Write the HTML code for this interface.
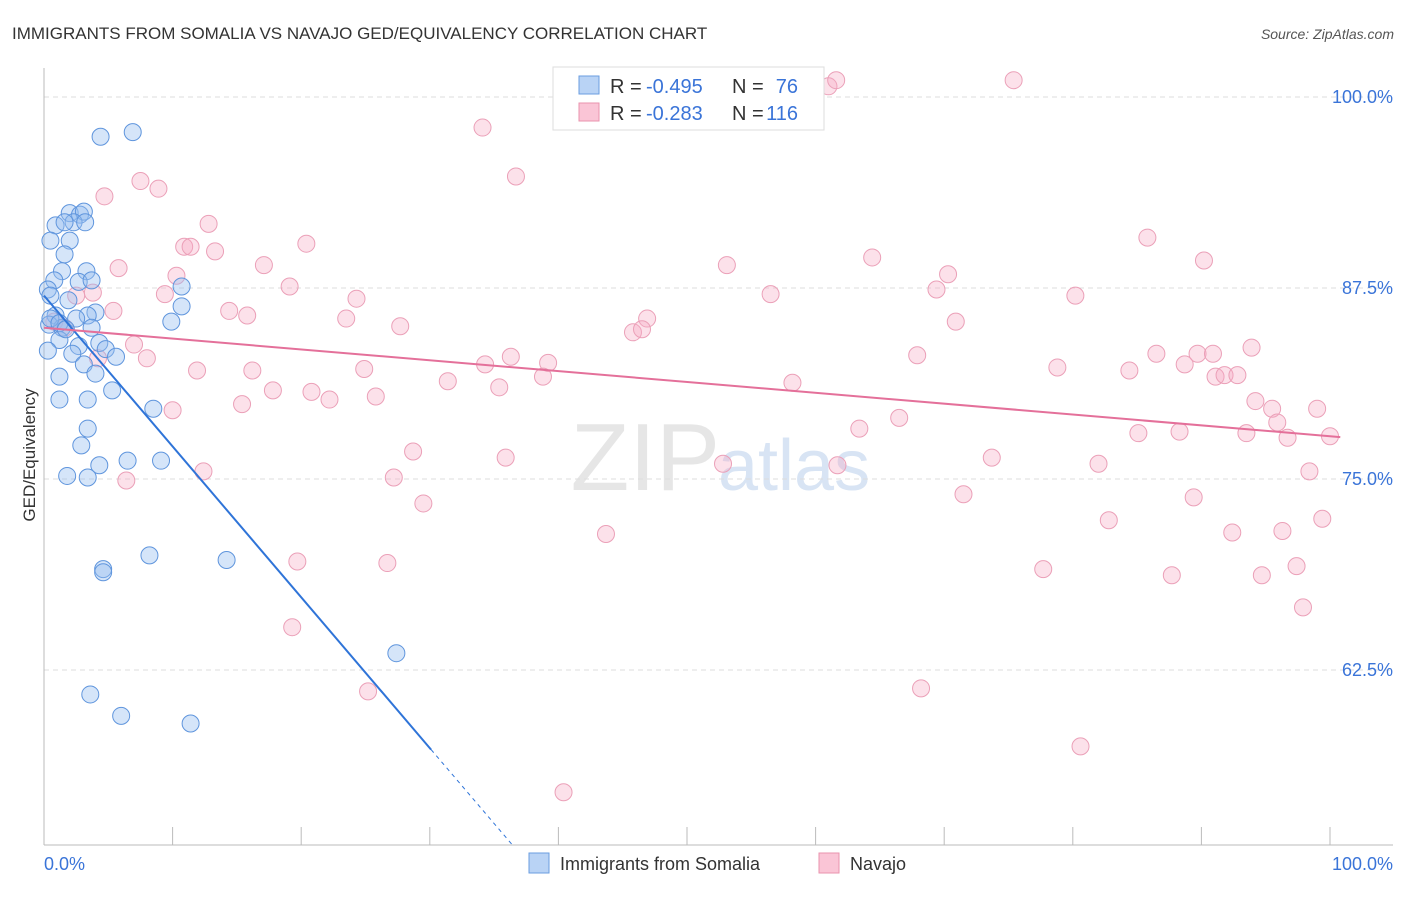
<!DOCTYPE html>
<html><head><meta charset="utf-8"><style>
body{margin:0;background:#fff;font-family:"Liberation Sans",sans-serif;}
svg text{font-family:"Liberation Sans",sans-serif;}
</style></head><body>
<svg id="chart" width="1406" height="892">
<text x="12" y="39" font-size="17" fill="#333">IMMIGRANTS FROM SOMALIA VS NAVAJO GED/EQUIVALENCY CORRELATION CHART</text>
<text x="1394" y="39" font-size="14" fill="#555" font-style="italic" text-anchor="end">Source: ZipAtlas.com</text>
<text x="720" y="490" font-size="96" fill="#e6e6e6" text-anchor="end" font-family="Liberation Serif">ZIP</text>
<text x="718" y="490" font-size="72" fill="#d8e4f4">atlas</text>
<g id="grid"></g><g id="axes"></g><g id="pts"></g><g id="lines"></g>
<text transform="translate(35,455) rotate(-90)" font-size="17" fill="#333" text-anchor="middle">GED/Equivalency</text>
<g>
<rect x="553" y="67" width="271" height="63" fill="#fff" stroke="#ddd"/>
<rect x="579" y="76" width="20" height="18" fill="#b9d3f5" stroke="#6a9ee0"/>
<rect x="579" y="103" width="20" height="18" fill="#fac5d6" stroke="#ea93ae"/>
<g font-size="20">
<text x="610" y="93" fill="#333">R =</text><text x="646" y="93" fill="#3a74d8">-0.495</text>
<text x="732" y="93" fill="#333">N =</text><text x="798" y="93" fill="#3a74d8" text-anchor="end">76</text></g>
<g font-size="20">
<text x="610" y="120" fill="#333">R =</text><text x="646" y="120" fill="#3a74d8">-0.283</text>
<text x="732" y="120" fill="#333">N =</text><text x="798" y="120" fill="#3a74d8" text-anchor="end">116</text></g>
</g>
<rect x="529" y="853" width="20" height="20" fill="#b9d3f5" stroke="#6a9ee0"/>
<text x="560" y="870" font-size="18" fill="#333">Immigrants from Somalia</text>
<rect x="819" y="853" width="20" height="20" fill="#fac5d6" stroke="#ea93ae"/>
<text x="850" y="870" font-size="18" fill="#333">Navajo</text>
</svg>
<script>
const yTicks=[100,87.5,75,62.5];
const yTickLabels=["100.0%","87.5%","75.0%","62.5%"];
const xTicks=[0,10,20,30,40,50,60,70,80,90,100];
const blueX=[4.4,6.9,0.9,2.0,2.8,3.1,2.3,3.2,1.6,0.5,2.0,1.6,1.4,3.3,0.8,2.7,3.7,0.3,0.5,1.9,10.7,10.7,4.0,3.4,0.9,2.5,9.9,0.4,1.4,3.7,1.2,2.7,4.3,4.8,0.3,2.2,5.6,3.1,4.0,1.2,5.3,1.2,3.4,8.5,3.4,2.9,4.3,6.5,9.1,1.8,3.4,8.2,14.2,4.6,4.6,27.4,3.6,6.0,11.4,0.5,1.2,1.7];
const blueY=[97.4,97.7,91.6,92.4,92.3,92.5,91.8,91.8,91.8,90.6,90.6,89.7,88.6,88.6,88.0,87.9,88.0,87.4,87.0,86.7,87.6,86.3,85.9,85.7,85.7,85.5,85.3,85.1,84.9,84.9,84.1,83.7,83.9,83.5,83.4,83.2,83.0,82.5,81.9,81.7,80.8,80.2,80.2,79.6,78.3,77.2,75.9,76.2,76.2,75.2,75.1,70.0,69.7,69.1,68.9,63.6,60.9,59.5,59.0,85.5,85.2,84.8];
const pinkX=[61.0,61.6,52.5,75.4,34.1,36.7,7.5,8.9,4.7,12.8,20.4,10.9,11.4,13.3,85.8,64.4,90.2,53.1,17.1,5.8,10.3,70.3,19.1,69.4,3.8,9.4,56.5,80.2,24.3,14.4,5.4,15.8,23.5,46.9,70.9,27.7,45.8,46.5,7.0,36.3,67.9,86.5,93.9,89.7,90.9,8.0,39.2,34.3,24.9,11.9,16.2,78.8,84.4,88.7,38.8,91.1,91.8,92.8,31.4,58.2,35.4,17.8,20.8,25.8,22.2,15.4,94.2,95.5,99.0,10.0,95.9,66.5,63.4,96.7,100,85.1,88.3,93.5,28.7,35.9,73.7,82.0,52.8,61.7,98.4,12.4,27.2,6.4,71.5,89.4,29.5,82.8,99.4,43.7,92.4,96.3,19.7,26.7,77.7,87.7,94.7,97.4,97.9,19.3,25.2,68.2,80.6,40.4,0.8,1.6,2.5,4.2];
const pinkY=[100.7,101.1,101.1,101.1,98.0,94.8,94.5,94.0,93.5,91.7,90.4,90.2,90.2,89.9,90.8,89.5,89.3,89.0,89.0,88.8,88.3,88.4,87.6,87.4,87.2,87.1,87.1,87.0,86.8,86.0,86.0,85.7,85.5,85.5,85.3,85.0,84.6,84.8,83.8,83.0,83.1,83.2,83.6,83.2,83.2,82.9,82.6,82.5,82.2,82.1,82.1,82.3,82.1,82.5,81.7,81.7,81.8,81.8,81.4,81.3,81.0,80.8,80.7,80.4,80.2,79.9,80.1,79.6,79.6,79.5,78.7,79.0,78.3,77.7,77.8,78.0,78.1,78.0,76.8,76.4,76.4,76.0,76.0,75.9,75.5,75.5,75.1,74.9,74.0,73.8,73.4,72.3,72.4,71.4,71.5,71.6,69.6,69.5,69.1,68.7,68.7,69.3,66.6,65.3,61.1,61.3,57.5,54.5,85.3,84.9,87.0,82.9];
const blueTrend=[87.0,-0.987];   // intercept, slope
const pinkTrend=[84.9,-0.071];
const blueSolidEnd=30.1;
const X0=44,X1=1330,Y100=97,PX=15.28,YBOT=845;
const xs=v=>X0+(X1-X0)*v/100;
const ys=v=>Y100+(100-v)*PX;
const NS='http://www.w3.org/2000/svg';
function mk(tag,attrs,parent){const e=document.createElementNS(NS,tag);for(const k in attrs)e.setAttribute(k,attrs[k]);document.getElementById(parent).appendChild(e);return e;}
yTicks.forEach((t,i)=>{
 const g=mk('line',{x1:X0,x2:1393,y1:ys(t),y2:ys(t),stroke:'#ddd','stroke-dasharray':'5,4'},'grid');
 
 
 const l=mk('text',{x:1393,y:ys(t)+6,'font-size':18,fill:'#3a74d8','text-anchor':'end'},'axes');
 l.textContent=yTickLabels[i];
 
 
});
const ya=mk('line',{x1:X0,x2:X0,y1:68,y2:YBOT,stroke:'#bbb'},'axes');


const xa=mk('line',{x1:X0,x2:1393,y1:YBOT,y2:YBOT,stroke:'#bbb'},'axes');


xTicks.forEach(t=>{
 const k=mk('line',{x1:xs(t),x2:xs(t),y1:YBOT-18,y2:YBOT,stroke:'#bbb'},'axes');
 
 
});
[[0,'0.0%','start',X0],[100,'100.0%','end',1393]].forEach(a=>{
 const l=mk('text',{x:a[3],y:870,'font-size':18,fill:'#3a74d8','text-anchor':a[2]},'axes');
 l.textContent=a[1];
 
 
});
pinkX.forEach((x,i)=>{
 const c=mk('circle',{cx:xs(x),cy:ys(pinkY[i]),r:8.5,fill:'rgba(246,170,195,0.35)',stroke:'#eba0b8','stroke-width':1},'pts');
 
 
});
blueX.forEach((x,i)=>{
 const c=mk('circle',{cx:xs(x),cy:ys(blueY[i]),r:8.5,fill:'rgba(150,190,240,0.4)',stroke:'#5f95dd','stroke-width':1},'pts');
 
 
});
const bf=v=>blueTrend[0]+blueTrend[1]*v;
const bEnd=(51.05-blueTrend[0])/blueTrend[1];
const bl=mk('line',{x1:xs(0),y1:ys(bf(0)),x2:xs(blueSolidEnd),y2:ys(bf(blueSolidEnd)),stroke:'#2f74d8','stroke-width':2},'lines');


const bd=mk('line',{x1:xs(blueSolidEnd),y1:ys(bf(blueSolidEnd)),x2:xs(bEnd),y2:ys(bf(bEnd)),stroke:'#2f74d8','stroke-width':1,'stroke-dasharray':'4,4'},'lines');


const pf=v=>pinkTrend[0]+pinkTrend[1]*v;
const pl=mk('line',{x1:xs(0),y1:ys(pf(0)),x2:xs(100.8),y2:ys(pf(100.8)),stroke:'#e4709a','stroke-width':2},'lines');


</script>
</body></html>
